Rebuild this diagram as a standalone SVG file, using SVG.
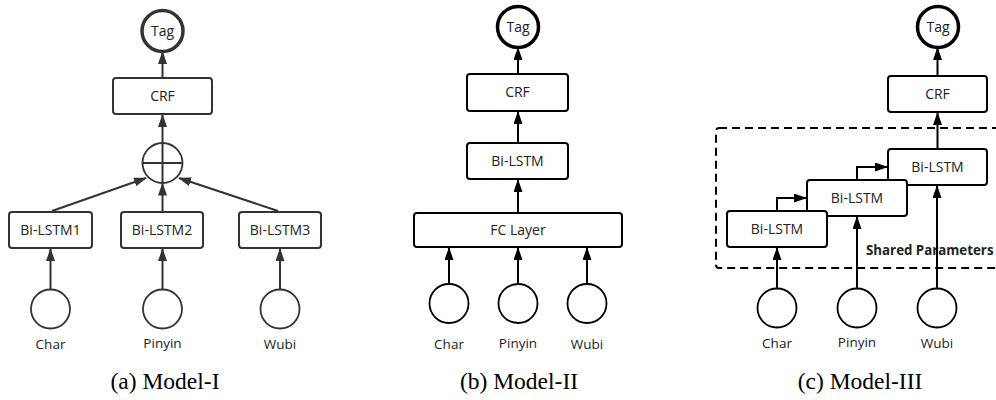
<svg xmlns="http://www.w3.org/2000/svg" width="996" height="400" viewBox="0 0 996 400">
<defs>
<style>
.box{fill:#fff;stroke:#000;stroke-width:2}
.boxa{fill:#fff;stroke:#333;stroke-width:2}
.inp{fill:#fff;stroke:#000;stroke-width:1.8}
.inpa{fill:#fff;stroke:#333;stroke-width:1.8}
.tag{fill:#fff;stroke:#000;stroke-width:3.5}
.taga{fill:#fff;stroke:#333;stroke-width:3.5}
.t{font-family:"Open Sans","Noto Sans",sans-serif;font-size:14px;fill:#222;text-anchor:middle}
.l{font-family:"Open Sans","Noto Sans",sans-serif;font-size:13.5px;fill:#222;text-anchor:middle}
.cap{font-family:"Liberation Serif","Times New Roman",serif;font-size:23.5px;fill:#000;text-anchor:middle}
.e{fill:none;stroke:#000;stroke-width:2}
.ea{fill:none;stroke:#333;stroke-width:2}
.dash{fill:none;stroke:#000;stroke-width:2;stroke-dasharray:8,5}
.bold{font-family:"Open Sans","Noto Sans",sans-serif;font-size:13.3px;font-weight:bold;fill:#222}
</style>
<marker id="ar" markerWidth="13" markerHeight="9" refX="12" refY="4.5" orient="auto" markerUnits="userSpaceOnUse">
<path d="M0,0 L13,4.5 L0,9 z" fill="#000"/>
</marker>
<marker id="ara" markerWidth="13" markerHeight="9" refX="12" refY="4.5" orient="auto" markerUnits="userSpaceOnUse">
<path d="M0,0 L13,4.5 L0,9 z" fill="#333"/>
</marker>
</defs>

<!-- Panel (a) -->
<g id="a-tag"><circle class="taga" cx="162.5" cy="31" r="20.5"/><text class="t" x="162.5" y="36">Tag</text></g>
<g id="a-crf"><rect class="boxa" x="113" y="78" width="99" height="36" rx="3"/><text class="t" x="162.5" y="101">CRF</text></g>
<g id="a-concat"><circle class="inpa" cx="162.5" cy="163" r="20"/><line class="ea" x1="142.5" y1="163" x2="182.5" y2="163"/><line class="ea" x1="162.5" y1="143" x2="162.5" y2="183"/></g>
<g id="a-lstm1"><rect class="boxa" x="9" y="212" width="83" height="36" rx="3"/><text class="t" x="50.5" y="235">Bi-LSTM1</text></g>
<g id="a-lstm2"><rect class="boxa" x="121" y="212" width="82" height="36" rx="3"/><text class="t" x="162" y="235">Bi-LSTM2</text></g>
<g id="a-lstm3"><rect class="boxa" x="239" y="212" width="82" height="36" rx="3"/><text class="t" x="280" y="235">Bi-LSTM3</text></g>
<g id="a-char"><circle class="inpa" cx="50.5" cy="309" r="19.5"/><text class="l" x="50.5" y="349">Char</text></g>
<g id="a-pinyin"><circle class="inpa" cx="162.5" cy="309" r="19.5"/><text class="l" x="162.5" y="348">Pinyin</text></g>
<g id="a-wubi"><circle class="inpa" cx="280" cy="309" r="19.5"/><text class="l" x="280" y="349">Wubi</text></g>
<text class="cap" x="165" y="389">(a) Model-I</text>

<!-- Panel (b) -->
<g id="b-tag"><circle class="tag" cx="518" cy="27" r="20.5"/><text class="t" x="518" y="32">Tag</text></g>
<g id="b-crf"><rect class="box" x="467" y="74" width="101" height="37" rx="3"/><text class="t" x="517.5" y="97">CRF</text></g>
<g id="b-lstm"><rect class="box" x="467" y="143" width="101" height="36" rx="3"/><text class="t" x="517.5" y="166">Bi-LSTM</text></g>
<g id="b-fc"><rect class="box" x="414" y="213" width="208" height="34" rx="3"/><text class="t" x="518" y="235">FC Layer</text></g>
<g id="b-char"><circle class="inp" cx="449" cy="303.5" r="19.5"/><text class="l" x="449" y="349">Char</text></g>
<g id="b-pinyin"><circle class="inp" cx="518" cy="303.5" r="19.5"/><text class="l" x="518" y="348">Pinyin</text></g>
<g id="b-wubi"><circle class="inp" cx="587" cy="303.5" r="19.5"/><text class="l" x="587" y="349">Wubi</text></g>
<text class="cap" x="519" y="389">(b) Model-II</text>

<!-- Panel (c) -->
<g id="c-tag"><circle class="tag" cx="938" cy="27" r="20.5"/><text class="t" x="938" y="32">Tag</text></g>
<g id="c-crf"><rect class="box" x="888" y="76" width="99" height="36" rx="3"/><text class="t" x="937.5" y="99">CRF</text></g>
<g id="c-shared"><rect class="dash" x="716" y="128" width="300" height="140" rx="3"/><text class="bold" x="866" y="255">Shared Parameters</text></g>
<g id="c-lstm3"><rect class="box" x="888" y="149" width="99" height="36" rx="3"/><text class="t" x="937.5" y="172">Bi-LSTM</text></g>
<g id="c-lstm2"><rect class="box" x="807" y="180" width="100" height="36" rx="3"/><text class="t" x="857" y="203">Bi-LSTM</text></g>
<g id="c-lstm1"><rect class="box" x="727" y="211" width="100" height="36" rx="3"/><text class="t" x="777" y="234">Bi-LSTM</text></g>
<g id="c-char"><circle class="inp" cx="777" cy="308" r="19.5"/><text class="l" x="777" y="348">Char</text></g>
<g id="c-pinyin"><circle class="inp" cx="857" cy="308" r="19.5"/><text class="l" x="857" y="347">Pinyin</text></g>
<g id="c-wubi"><circle class="inp" cx="937" cy="308" r="19.5"/><text class="l" x="937" y="348">Wubi</text></g>
<text class="cap" x="860" y="389">(c) Model-III</text>

<g id="connectors">
<line class="ea" x1="162.5" y1="78" x2="162.5" y2="52" marker-end="url(#ara)"/>
<line class="ea" x1="162.5" y1="143" x2="162.5" y2="115" marker-end="url(#ara)"/>
<line class="ea" x1="52" y1="211" x2="146" y2="178" marker-end="url(#ara)"/>
<line class="ea" x1="162.5" y1="212" x2="162.5" y2="183.5" marker-end="url(#ara)"/>
<line class="ea" x1="278" y1="211" x2="179" y2="178" marker-end="url(#ara)"/>
<line class="ea" x1="50.5" y1="289.5" x2="50.5" y2="249" marker-end="url(#ara)"/>
<line class="ea" x1="162.5" y1="289.5" x2="162.5" y2="249" marker-end="url(#ara)"/>
<line class="ea" x1="280" y1="289.5" x2="280" y2="249" marker-end="url(#ara)"/>

<line class="e" x1="518" y1="74" x2="518" y2="48" marker-end="url(#ar)"/>
<line class="e" x1="518" y1="143" x2="518" y2="112" marker-end="url(#ar)"/>
<line class="e" x1="518" y1="213" x2="518" y2="180" marker-end="url(#ar)"/>
<line class="e" x1="449" y1="284" x2="449" y2="248" marker-end="url(#ar)"/>
<line class="e" x1="518" y1="284" x2="518" y2="248" marker-end="url(#ar)"/>
<line class="e" x1="587" y1="284" x2="587" y2="248" marker-end="url(#ar)"/>

<line class="e" x1="937.5" y1="76" x2="937.5" y2="48" marker-end="url(#ar)"/>
<line class="e" x1="937.5" y1="149" x2="937.5" y2="113" marker-end="url(#ar)"/>
<polyline class="e" points="777,211 777,198 806,198" marker-end="url(#ar)"/>
<polyline class="e" points="857,180 857,167 887,167" marker-end="url(#ar)"/>
<line class="e" x1="777" y1="288.5" x2="777" y2="248" marker-end="url(#ar)"/>
<line class="e" x1="857" y1="288.5" x2="857" y2="217" marker-end="url(#ar)"/>
<line class="e" x1="937" y1="288.5" x2="937" y2="186" marker-end="url(#ar)"/>
</g>
</svg>
